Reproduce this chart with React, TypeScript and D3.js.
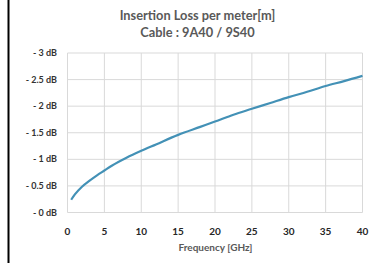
import React, { useEffect, useRef } from 'react';
import * as d3 from 'd3';

// insertion loss (dB per meter)
const freqs = [0.5, 1, 2, 3, 4, 5, 6, 8, 10, 12, 15, 18, 20, 22.5, 25, 27.5, 30, 32.5, 35, 37.5, 40];
const losses = [0.24, 0.34, 0.49, 0.6, 0.7, 0.79, 0.88, 1.03, 1.16, 1.28, 1.46, 1.61, 1.71, 1.84, 1.95, 2.06, 2.17, 2.27, 2.38, 2.47, 2.57];
const xTicks = [0, 5, 10, 15, 20, 25, 30, 35, 40];
const yTicks = [0, 0.5, 1, 1.5, 2, 2.5, 3];
const yTickLabels = ['- 0 dB', '- 0.5 dB', '- 1 dB', '- 1.5 dB', '- 2 dB', '- 2.5 dB', '- 3 dB'];
const titleLines = ['Insertion Loss per meter[m]', 'Cable : 9A40 / 9S40'];
const xTitle = 'Frequency [GHz]';

const App = () => {
  const ref = useRef<SVGSVGElement>(null);

  useEffect(() => {
    const width = 372;
    const height = 263;
    const m = { top: 53, right: 9.5, bottom: 50.5, left: 67.5 };

    const svg = d3.select(ref.current);
    svg.selectAll('*').remove();
    svg.attr('width', width).attr('height', height);

    const font = 'Lato, "Liberation Sans", sans-serif';

    svg.append('rect').attr('width', width).attr('height', height).attr('fill', '#fff');

    // black frame edge on the left
    svg.append('line')
      .attr('x1', 8.5).attr('x2', 8.5)
      .attr('y1', 0).attr('y2', height)
      .attr('stroke', '#000').attr('stroke-width', 2);

    const x = d3.scaleLinear().domain([0, 40]).range([m.left, width - m.right]);
    const y = d3.scaleLinear().domain([0, 3]).range([height - m.bottom, m.top]);

    const g = svg.append('g');

    g.selectAll('.vg')
      .data(xTicks)
      .enter()
      .append('line')
      .attr('x1', d => x(d)).attr('x2', d => x(d))
      .attr('y1', y(0)).attr('y2', y(3))
      .attr('stroke', '#d9d9d9').attr('stroke-width', 1);

    g.selectAll('.hg')
      .data(yTicks)
      .enter()
      .append('line')
      .attr('x1', x(0)).attr('x2', x(40))
      .attr('y1', d => y(d)).attr('y2', d => y(d))
      .attr('stroke', '#d9d9d9').attr('stroke-width', 1);

    g.selectAll('.yl')
      .data(yTicks)
      .enter()
      .append('text')
      .attr('x', 57)
      .attr('y', d => y(d))
      .attr('dy', '0.35em')
      .attr('text-anchor', 'end')
      .attr('font-family', font)
      .attr('font-weight', 'bold')
      .attr('font-size', 9)
      .attr('fill', '#333')
      .text((d, i) => yTickLabels[i]);

    g.selectAll('.xl')
      .data(xTicks)
      .enter()
      .append('text')
      .attr('x', d => x(d))
      .attr('y', 234.5)
      .attr('text-anchor', 'middle')
      .attr('font-family', font)
      .attr('font-weight', 'bold')
      .attr('font-size', 10)
      .attr('fill', '#262626')
      .text(d => d);

    const line = d3.line<number>()
      .x((d, i) => x(freqs[i]))
      .y(d => y(d))
      .curve(d3.curveMonotoneX);

    g.append('path')
      .datum(losses)
      .attr('d', line)
      .attr('fill', 'none')
      .attr('stroke', '#4391b6')
      .attr('stroke-width', 2.2);

    svg.selectAll('.title')
      .data(titleLines)
      .enter()
      .append('text')
      .attr('x', 197.5)
      .attr('y', (d, i) => 20 + i * 16.7)
      .attr('text-anchor', 'middle')
      .attr('font-family', font)
      .attr('font-weight', 'bold')
      .attr('font-size', 12.8)
      .attr('fill', '#595959')
      .text(d => d);

    svg.append('text')
      .attr('x', 215.5)
      .attr('y', 251)
      .attr('text-anchor', 'middle')
      .attr('font-family', font)
      .attr('font-weight', 'bold')
      .attr('font-size', 10)
      .attr('fill', '#595959')
      .text(xTitle);
  }, []);

  return (
    <div style={{ position: 'fixed', left: 0, top: 0 }}>
      <svg ref={ref} style={{ display: 'block' }}></svg>
    </div>
  );
};

export default App;
